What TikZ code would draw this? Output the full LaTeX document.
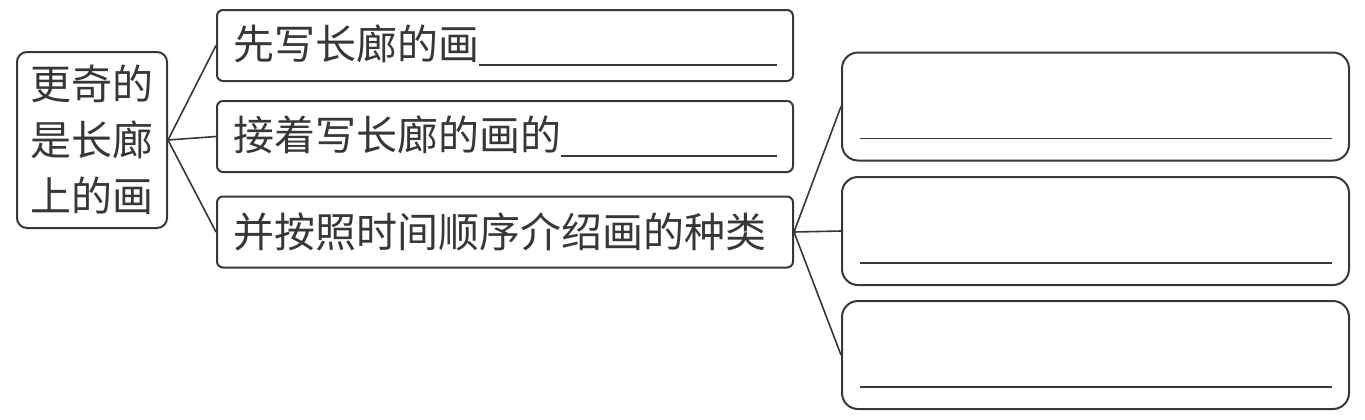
\documentclass[tikz,border=0pt]{standalone}
\usepackage{fontspec}
\newfontfamily\cjk{Noto Sans CJK SC}
\definecolor{inkgray}{RGB}{55,55,55}
\newcommand{\blankline}{\leaders\hrule height -2.4pt depth 3.2pt\hskip 4pt plus 1fill\null}

\begin{document}
\begin{tikzpicture}[x=0.5pt, y=-0.5pt,
    topicbox/.style={draw=inkgray, line width=1pt, rounded corners=5pt, text=inkgray, font=\cjk\fontsize{20.5}{28}\selectfont, align=center, minimum width=75pt, minimum height=88pt, inner sep=0pt},
    stepbox/.style={draw=inkgray, line width=1pt, rounded corners=3pt, text=inkgray, font=\cjk\fontsize{20.5}{28}\selectfont, align=left, text width=272pt, inner xsep=8pt, inner ysep=0pt, minimum height=35.5pt},
    answerbox/.style={draw=inkgray, line width=1pt, rounded corners=8pt, minimum width=253.5pt, minimum height=54pt, inner sep=0pt},
    branch/.style={draw=inkgray, line width=0.8pt}]
  \useasboundingbox (0,0) rectangle (1365,419);

  \node[topicbox] (topic) at (92,140) {更奇的\\是长廊\\上的画};

  \node[stepbox] (s1) at (505,45.5) {先写长廊的画\blankline};
  \node[stepbox] (s2) at (505,136.5) {接着写长廊的画的\blankline};
  \node[stepbox] (s3) at (505,232) {并按照时间顺序介绍画的种类};

  \node[answerbox] (r1) at (1095.5,106.5) {};
  \node[answerbox] (r2) at (1095.5,231) {};
  \node[answerbox] (r3) at (1095.5,355) {};

  \foreach \s in {s1,s2,s3}
    \draw[branch] (topic.east) -- (\s.west);
  \foreach \r in {r1,r2,r3} {
    \draw[branch] (s3.east) -- (\r.west);
    \draw[branch] ([shift={(19,-23)}]\r.south west) -- ([shift={(-18,-23)}]\r.south east);
  }
\end{tikzpicture}
\end{document}
